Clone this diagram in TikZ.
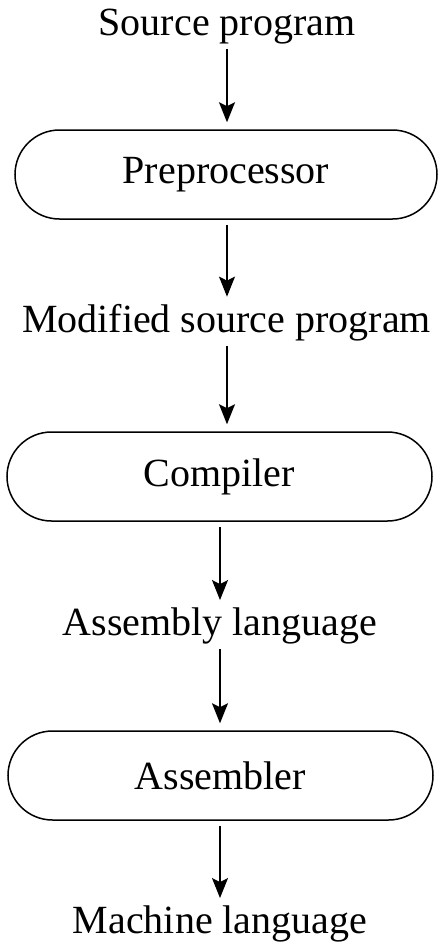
\documentclass[tikz,border=0pt]{standalone}
\usepackage{fontspec}
\setmainfont{Liberation Serif}
\usetikzlibrary{arrows.meta}
\begin{document}
\begin{tikzpicture}[x=1pt,y=-1pt,
  label/.style={inner sep=0pt,anchor=base,font=\fontsize{40}{46}\selectfont},
  stage/.style={draw,line width=1.5pt,rounded corners=44.5pt,minimum height=89pt,
    inner sep=0pt,font=\fontsize{40}{46}\selectfont},
  flow/.style={line width=1.4pt,-{Stealth[length=20pt,width=16pt,inset=4pt]},
    shorten <=5pt,shorten >=7pt}]
  \useasboundingbox (0,0) rectangle (438,946);
  % data between the stages
  \node[label] (src) at (227,35) {Source program};
  \node[label] (mod) at (226.5,332) {Modified source program};
  \node[label] (asm) at (220,635) {Assembly language};
  \node[label] (mach) at (220,933) {Machine language};
  % processing stages
  \node[stage,minimum width=422pt] (pre) at (226,174.5) {Preprocessor};
  \node[stage,minimum width=425pt] (comp) at (219.5,476.5) {Compiler};
  \node[stage,minimum width=425pt] (assm) at (220.5,775.5) {Assembler};
  % flow
  \draw[flow] (src.south) -- (src.south |- pre.north);
  \draw[flow] (src.south |- pre.south) -- (src.south |- mod.north);
  \draw[flow] (src.south |- mod.south) -- (src.south |- comp.north);
  \draw[flow] (asm.north |- comp.south) -- (asm.north);
  \draw[flow] (asm.south) -- (asm.south |- assm.north);
  \draw[flow] (asm.south |- assm.south) -- (asm.south |- mach.north);
\end{tikzpicture}
\end{document}
